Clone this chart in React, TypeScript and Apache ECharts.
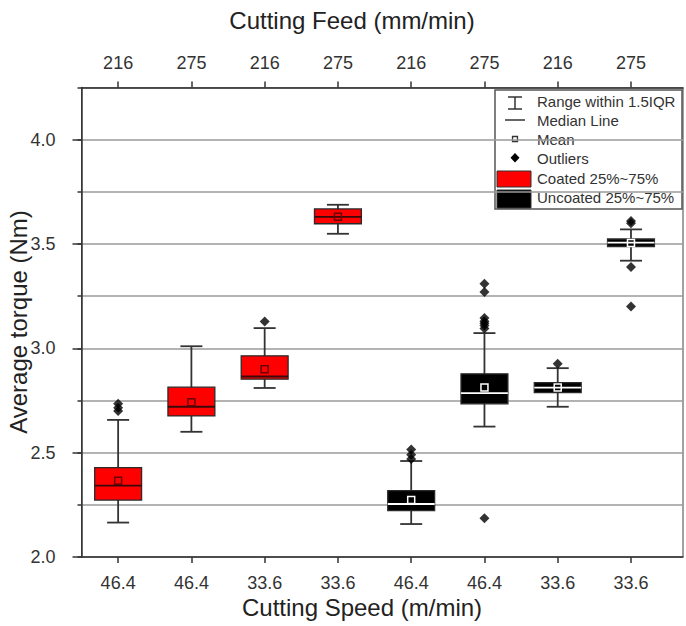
import React, { useEffect, useRef } from "react";
import * as echarts from "echarts";

const speeds = ["46.4", "46.4", "33.6", "33.6", "46.4", "46.4", "33.6", "33.6"];
const feeds = ["216", "275", "216", "275", "216", "275", "216", "275"];
const coating = [0, 0, 0, 0, 1, 1, 1, 1]; // 0 = coated (red), 1 = uncoated (black)
const whiskerLow = [2.165, 2.6, 2.81, 3.549, 2.158, 2.625, 2.72, 3.42];
const q1 = [2.273, 2.676, 2.852, 3.597, 2.222, 2.734, 2.788, 3.488];
const median = [2.342, 2.72, 2.865, 3.63, 2.254, 2.785, 2.812, 3.507];
const q3 = [2.428, 2.814, 2.964, 3.668, 2.318, 2.878, 2.836, 3.524];
const whiskerHigh = [2.657, 3.01, 3.097, 3.688, 2.46, 3.073, 2.905, 3.57];
const means = [2.366, 2.742, 2.9, 3.63, 2.273, 2.812, 2.812, 3.505];
const outliers: [number, number][] = [
  [1, 2.7], [1, 2.715], [1, 2.735],
  [3, 3.128],
  [5, 2.47], [5, 2.49], [5, 2.515],
  [6, 3.27], [6, 3.31], [6, 3.095], [6, 3.11], [6, 3.12], [6, 3.13], [6, 3.145], [6, 2.186],
  [7, 2.926],
  [8, 3.6], [8, 3.61], [8, 3.39], [8, 3.2],
];
const yMajor = [2.0, 2.5, 3.0, 3.5, 4.0];
const xTicks = [1, 2, 3, 4, 5, 6, 7, 8];

const FONT = "Liberation Sans, Arial, sans-serif";
const TXT = "#333";

export default function App() {
  const ref = useRef<HTMLDivElement>(null);
  useEffect(() => {
    if (!ref.current) return;
    const chart = echarts.init(ref.current, undefined, { renderer: "svg" });
    const boxData = speeds.map((_, i) => [
      i + 1, whiskerLow[i], q1[i], median[i], q3[i], whiskerHigh[i], means[i], coating[i],
    ]);
    const option: any = {
      animation: false,
      backgroundColor: "#fff",
      grid: {
        left: 81.5, right: 3, top: 87.5, bottom: 69,
        show: true, borderColor: "#444", borderWidth: 1, backgroundColor: "transparent",
      },
      xAxis: [
        {
          type: "value", min: 0.5, max: 8.71, position: "bottom",
          axisLine: { show: true, onZero: false, lineStyle: { color: "#333", width: 1.5 } },
          axisTick: { show: true, customValues: xTicks, length: 6, lineStyle: { color: "#333", width: 1.5 } },
          axisLabel: {
            customValues: xTicks, margin: 17, fontSize: 18, fontFamily: FONT, color: TXT,
            formatter: (v: number) => speeds[Math.round(v) - 1] ?? "",
          },
          splitLine: { show: false },
        },
        {
          type: "value", min: 0.5, max: 8.71, position: "top",
          axisLine: { show: true, onZero: false, lineStyle: { color: "#333", width: 1.5 } },
          axisTick: { show: true, customValues: xTicks, length: 6, lineStyle: { color: "#333", width: 1.5 } },
          axisLabel: {
            customValues: xTicks, margin: 16, fontSize: 18, fontFamily: FONT, color: TXT,
            formatter: (v: number) => feeds[Math.round(v) - 1] ?? "",
          },
          splitLine: { show: false },
        },
      ],
      yAxis: [
        {
          type: "value", min: 2, max: 4.25, interval: 0.25,
          axisLine: { show: true, lineStyle: { color: "#333", width: 1.5 } },
          axisTick: { show: true, length: 4, lineStyle: { color: "#333", width: 1.5 } },
          axisLabel: { show: false },
          splitLine: { show: true, lineStyle: { color: "#9a9a9a", width: 1.5 } },
        },
        {
          type: "value", min: 2, max: 4.25, position: "left",
          axisLine: { show: false },
          axisTick: { show: true, customValues: yMajor, length: 9, lineStyle: { color: "#333", width: 1.5 } },
          axisLabel: {
            customValues: yMajor, margin: 26, fontSize: 18, fontFamily: FONT, color: TXT,
            formatter: (v: number) => v.toFixed(1),
          },
          splitLine: { show: false },
        },
      ],
      series: [
        {
          type: "custom",
          xAxisIndex: 0, yAxisIndex: 0,
          data: boxData,
          encode: { x: 0, y: [1, 5] },
          renderItem: (params: any, api: any) => {
            const x = api.value(0);
            const lo = api.coord([x, api.value(1)]);
            const b1 = api.coord([x, api.value(2)]);
            const md = api.coord([x, api.value(3)]);
            const b3 = api.coord([x, api.value(4)]);
            const hi = api.coord([x, api.value(5)]);
            const mn = api.coord([x, api.value(6)]);
            const kind = api.value(7);
            const w = api.size([0.64, 0])[0];
            const cap = 11;
            const cx = lo[0];
            const fill = kind === 0 ? "#ff0000" : "#000000";
            const medColor = kind === 0 ? "#3a0a0a" : "#ffffff";
            const meanColor = kind === 0 ? "#6a0000" : "#ffffff";
            const ws = { stroke: "#333", lineWidth: 1.8 };
            return {
              type: "group",
              children: [
                { type: "line", shape: { x1: cx, y1: lo[1], x2: cx, y2: hi[1] }, style: ws },
                { type: "line", shape: { x1: cx - cap, y1: lo[1], x2: cx + cap, y2: lo[1] }, style: ws },
                { type: "line", shape: { x1: cx - cap, y1: hi[1], x2: cx + cap, y2: hi[1] }, style: ws },
                {
                  type: "rect",
                  shape: { x: cx - w / 2, y: b3[1], width: w, height: b1[1] - b3[1] },
                  style: { fill, stroke: "#2a2a2a", lineWidth: 1.3 },
                },
                { type: "line", shape: { x1: cx - w / 2, y1: md[1], x2: cx + w / 2, y2: md[1] }, style: { stroke: medColor, lineWidth: 1.8 } },
                {
                  type: "rect",
                  shape: { x: cx - 3.5, y: mn[1] - 3.5, width: 7, height: 7 },
                  style: { fill: "none", stroke: meanColor, lineWidth: 1.5 },
                },
              ],
            };
          },
          z: 2,
        },
        {
          type: "scatter",
          xAxisIndex: 0, yAxisIndex: 0,
          data: outliers,
          symbol: "diamond",
          symbolSize: 10,
          itemStyle: { color: "#000" },
          z: 3,
        },
      ],
      graphic: [
        { type: "text", x: 352, y: 20, style: { text: "Cutting Feed (mm/min)", font: `24px ${FONT}`, fill: "#222", align: "center", verticalAlign: "middle" } },
        { type: "text", x: 362, y: 607, style: { text: "Cutting Speed (m/min)", font: `24px ${FONT}`, fill: "#222", align: "center", verticalAlign: "middle" } },
        { type: "text", x: 18, y: 322, rotation: Math.PI / 2, style: { text: "Average torque (Nm)", font: `24px ${FONT}`, fill: "#222", align: "center", verticalAlign: "middle" } },
        {
          type: "group", x: 0, y: 0, z: 10,
          children: [
            { type: "rect", shape: { x: 495, y: 90, width: 187, height: 119 }, style: { fill: "#fff", stroke: "#555", lineWidth: 1.5 } },
            { type: "line", shape: { x1: 515, y1: 97, x2: 515, y2: 109 }, style: { stroke: "#333", lineWidth: 1.5 } },
            { type: "line", shape: { x1: 508, y1: 97, x2: 522, y2: 97 }, style: { stroke: "#333", lineWidth: 1.5 } },
            { type: "line", shape: { x1: 508, y1: 109, x2: 522, y2: 109 }, style: { stroke: "#333", lineWidth: 1.5 } },
            { type: "line", shape: { x1: 505, y1: 120, x2: 525, y2: 120 }, style: { stroke: "#333", lineWidth: 1.5 } },
            { type: "rect", shape: { x: 512.5, y: 136.5, width: 5, height: 5 }, style: { fill: "#fff", stroke: "#333", lineWidth: 1.3 } },
            { type: "polygon", shape: { points: [[515, 153], [519.5, 157.7], [515, 162.4], [510.5, 157.7]] }, style: { fill: "#000" } },
            { type: "rect", shape: { x: 497, y: 171, width: 34, height: 16 }, style: { fill: "#ff0000", stroke: "#333", lineWidth: 1 } },
            { type: "rect", shape: { x: 497, y: 190, width: 34, height: 18 }, style: { fill: "#000", stroke: "#333", lineWidth: 1 } },
            { type: "text", x: 537, y: 101, style: { text: "Range within 1.5IQR", font: `15px ${FONT}`, fill: TXT, verticalAlign: "middle" } },
            { type: "text", x: 537, y: 120, style: { text: "Median Line", font: `15px ${FONT}`, fill: TXT, verticalAlign: "middle" } },
            { type: "text", x: 537, y: 139, style: { text: "Mean", font: `15px ${FONT}`, fill: TXT, verticalAlign: "middle" } },
            { type: "text", x: 537, y: 158, style: { text: "Outliers", font: `15px ${FONT}`, fill: TXT, verticalAlign: "middle" } },
            { type: "text", x: 537, y: 178, style: { text: "Coated 25%~75%", font: `15px ${FONT}`, fill: TXT, verticalAlign: "middle" } },
            { type: "text", x: 537, y: 197, style: { text: "Uncoated 25%~75%", font: `15px ${FONT}`, fill: TXT, verticalAlign: "middle" } },
          ],
        },
      ],
    };
    chart.setOption(option);
    return () => chart.dispose();
  }, []);
  return <div ref={ref} style={{ width: 686, height: 626, position: "absolute", left: 0, top: 0 }} />;
}
